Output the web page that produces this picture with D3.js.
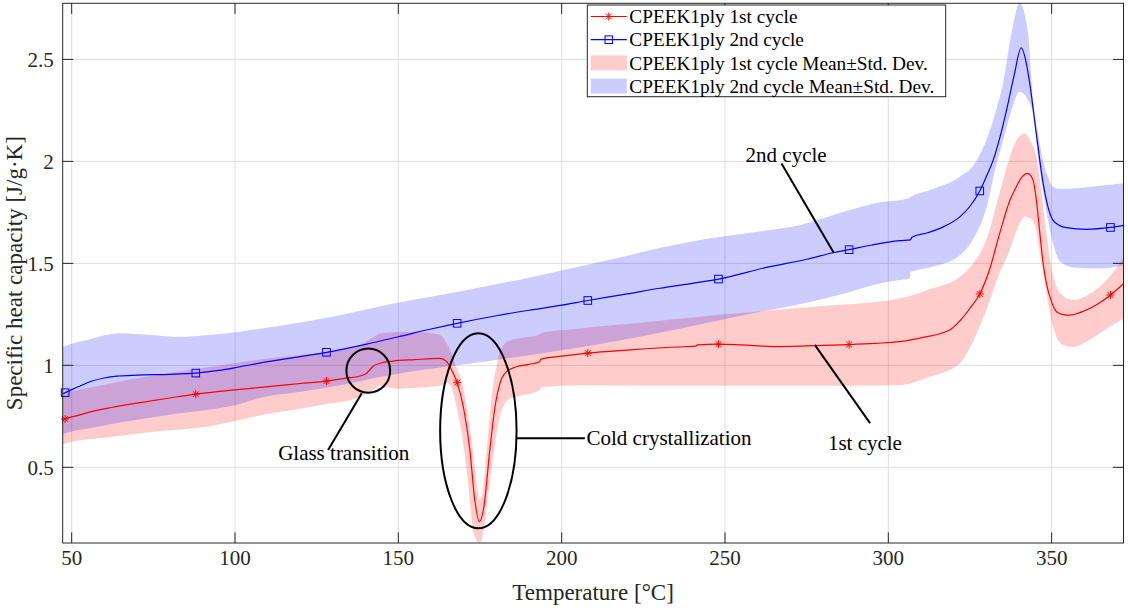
<!DOCTYPE html>
<html><head><meta charset="utf-8">
<script src="https://cdn.jsdelivr.net/npm/d3@7"></script>
<style>
body{margin:0;background:#fff;}
svg text{font-family:"Liberation Serif","Times New Roman",serif;fill:#262626}
</style></head>
<body><svg id="c" width="1128" height="608"></svg>
<script>
// ---------- DATA ----------
const temp1 = [47.25,48,52,56,60.7,70,80,88,100,111.7,120,128,134,138.3,140.3,142.3,144.4,148.4,155,162.7,164.8,166.3,168,169.9,171.9,173.4,174.8,176.2,178,179.6,181.1,183.1,186.2,190,193.3,193.6,200,208,220,235,241,241.5,248,255,265,275,288,296,303.5,310,318.8,322,325,328,331,334.1,337,339.2,341,342.6,344.3,345.4,346.4,347.4,348.4,350,351.5,353.5,355.5,358,360.6,364,368,372];
const cp1 = [0.732,0.737,0.755,0.773,0.789,0.815,0.84,0.859,0.88,0.898,0.911,0.923,0.937,0.948,0.961,0.996,1.01,1.021,1.028,1.034,1.018,0.977,0.915,0.797,0.585,0.34,0.233,0.307,0.585,0.797,0.912,0.969,0.993,1.005,1.018,1.03,1.045,1.06,1.075,1.09,1.094,1.1,1.104,1.1,1.092,1.095,1.102,1.108,1.116,1.135,1.173,1.22,1.28,1.35,1.47,1.647,1.8,1.876,1.925,1.941,1.908,1.8,1.647,1.5,1.402,1.31,1.263,1.249,1.246,1.255,1.271,1.3,1.345,1.4];

const temp2 = [47.25,48,52,56,60,63.8,70,80,88,95,101.5,110,120,128,140,150,160,168,180,190,200,208,220,230,240,248,262.7,275,283.1,288,295,303.5,306.8,307.2,312,317,321.9,325,328,330,332.1,334.2,336.2,338.5,340.7,342,343.3,345.3,347.4,349,350.4,352.5,354.5,360.6,368,372];
const cp2 = [0.861,0.866,0.895,0.922,0.938,0.947,0.952,0.956,0.962,0.975,0.993,1.018,1.043,1.064,1.103,1.14,1.178,1.206,1.243,1.27,1.295,1.318,1.35,1.378,1.402,1.423,1.48,1.52,1.552,1.567,1.59,1.611,1.615,1.628,1.65,1.68,1.728,1.78,1.855,1.925,2.006,2.12,2.251,2.42,2.557,2.5,2.382,2.137,1.892,1.77,1.712,1.685,1.675,1.667,1.676,1.686];

const bandTemp1 = [47.25,48,60,75,91.3,108,128,138.3,141.5,144.4,149.5,155,162.7,164.8,166,167.5,169.4,171.4,172.7,174,174.8,175.6,176.6,177.8,179,180.1,181.2,182.5,184,186.2,193.3,193.6,205.6,225,250,275,303.5,312,321.9,326,330,334,337.2,339.5,341.8,343.5,345.3,346.9,348.4,350,351.5,353.5,356.6,360.5,364.7,369,372];
const upper1 = [0.858,0.862,0.905,0.95,0.99,1.03,1.067,1.1,1.13,1.155,1.163,1.165,1.149,1.108,1.07,1.0,0.92,0.75,0.6,0.42,0.34,0.36,0.5,0.72,0.9,1.0,1.07,1.105,1.12,1.13,1.15,1.158,1.181,1.21,1.25,1.285,1.328,1.37,1.434,1.5,1.614,1.84,2.023,2.11,2.137,2.1,2.023,1.85,1.647,1.47,1.385,1.34,1.32,1.34,1.385,1.46,1.53];
const lower1 = [0.612,0.617,0.645,0.675,0.699,0.755,0.81,0.845,0.87,0.9,0.885,0.89,0.9,0.915,0.9,0.82,0.666,0.42,0.21,0.14,0.129,0.15,0.25,0.4,0.55,0.666,0.76,0.81,0.835,0.846,0.879,0.893,0.903,0.9,0.9,0.9,0.903,0.94,1.01,1.12,1.271,1.45,1.565,1.67,1.73,1.72,1.66,1.5,1.36,1.22,1.14,1.1,1.091,1.115,1.157,1.2,1.228];

const bandTemp2 = [47.25,48,55,64.8,75,83,91.3,101.5,107.6,120,132.1,147.4,168,190,210,242.3,260,272.9,288.2,298.4,303.5,306.5,306.8,312.7,321.9,326,330,333,335.1,337.7,340.2,342.8,344.3,346,347.4,349,350.4,352.5,356.6,365,372];
const upper2 = [1.09,1.095,1.125,1.157,1.148,1.14,1.148,1.165,1.18,1.21,1.246,1.3,1.36,1.43,1.5,1.614,1.655,1.687,1.761,1.802,1.81,1.82,1.825,1.859,1.925,1.98,2.104,2.25,2.382,2.627,2.775,2.627,2.3,2.12,2.0,1.92,1.876,1.866,1.867,1.88,1.893];
const lower2 = [0.662,0.666,0.69,0.72,0.745,0.765,0.781,0.81,0.84,0.87,0.903,0.952,1.0,1.05,1.1,1.2,1.26,1.3,1.36,1.405,1.418,1.426,1.459,1.48,1.54,1.62,1.77,1.98,2.1,2.25,2.341,2.3,2.235,2.0,1.85,1.7,1.6,1.51,1.48,1.475,1.49];

const markerTemps = [48,88,128,168,208,248,288,328,368];
const xTicks = [50,100,150,200,250,300,350];
const yTicks = [0.5,1,1.5,2,2.5];
const legendLabels = ["CPEEK1ply 1st cycle","CPEEK1ply 2nd cycle","CPEEK1ply 1st cycle Mean\u00B1Std. Dev.","CPEEK1ply 2nd cycle Mean\u00B1Std. Dev."];
const xLabel = "Temperature [\u00B0C]";
const yLabel = "Specific heat capacity [J/g\u00B7K]";
// annotations: ellipse centre (T, cp) and half-axes (°C, J/g·K)
const ellipses = [{t:140.8, v:0.974, rt:6.7, rv:0.108},{t:174.5, v:0.679, rt:11.7, rv:0.478}];
const leaderLines = [
  {t1:138.8, v1:0.863, t2:128.5, v2:0.585},
  {t1:186.2, v1:0.642, t2:207.1, v2:0.642},
  {t1:267.3, v1:1.99, t2:283.3, v2:1.552},
  {t1:277.5, v1:1.10, t2:294.4, v2:0.717}
];
const notes = [
  {t:113.2, v:0.536, text:"Glass transition"},
  {t:207.6, v:0.609, text:"Cold crystallization"},
  {t:256.3, v:1.998, text:"2nd cycle"},
  {t:281.5, v:0.585, text:"1st cycle"}
];

// ---------- CHART ----------
const W = 1128, H = 608;
const L = 62.7, R = 1123.5, T = 3.3, B = 543;
const svg = d3.select("#c");
const allT = [...temp1, ...temp2, ...bandTemp1, ...bandTemp2];
const allV = [...upper1, ...lower1, ...upper2, ...lower2, ...cp1, ...cp2];
const x = d3.scaleLinear().domain(d3.extent(allT)).range([L, R]);
const y = d3.scaleLinear().domain(d3.extent(allV)).range([B, T]);

const AX = "#262626", GRID = "#dfdfdf";
svg.append("rect").attr("x",0).attr("y",0).attr("width",W).attr("height",H).attr("fill","#fff");
svg.append("defs").append("clipPath").attr("id","clip").append("rect")
  .attr("x",L).attr("y",T).attr("width",R-L).attr("height",B-T);

// grid
const g = svg.append("g");
g.selectAll(".gx").data(xTicks).join("line")
  .attr("x1",d=>x(d)).attr("x2",d=>x(d)).attr("y1",T).attr("y2",B)
  .attr("stroke",GRID).attr("stroke-width",1);
g.selectAll(".gy").data(yTicks).join("line")
  .attr("y1",d=>y(d)).attr("y2",d=>y(d)).attr("x1",L).attr("x2",R)
  .attr("stroke",GRID).attr("stroke-width",1);

const plot = svg.append("g").attr("clip-path","url(#clip)");
const band1 = bandTemp1.map((t,i)=>({t, u:upper1[i], l:lower1[i]}));
const band2 = bandTemp2.map((t,i)=>({t, u:upper2[i], l:lower2[i]}));
const area = d3.area().x(d=>x(d.t)).y0(d=>y(d.l)).y1(d=>y(d.u)).curve(d3.curveMonotoneX);
plot.append("path").datum(band1).attr("d",area).attr("fill","#ff0000").attr("fill-opacity",0.2);
plot.append("path").datum(band2).attr("d",area).attr("fill","#0000ff").attr("fill-opacity",0.2);

const s1 = temp1.map((t,i)=>({t, v:cp1[i]}));
const s2 = temp2.map((t,i)=>({t, v:cp2[i]}));
const line = d3.line().x(d=>x(d.t)).y(d=>y(d.v)).curve(d3.curveMonotoneX);
plot.append("path").datum(s1).attr("d",line).attr("fill","none").attr("stroke","#ff0000").attr("stroke-width",1.2);
plot.append("path").datum(s2).attr("d",line).attr("fill","none").attr("stroke","#0000ff").attr("stroke-width",1.2);

function asterisk(sel, cx, cy, r, col){
  const gg = sel.append("g").attr("transform",`translate(${cx},${cy})`).attr("stroke",col).attr("stroke-width",1);
  gg.append("line").attr("x1",-r).attr("x2",r).attr("y1",0).attr("y2",0);
  gg.append("line").attr("x1",0).attr("x2",0).attr("y1",-r).attr("y2",r);
  const k = r*0.72;
  gg.append("line").attr("x1",-k).attr("x2",k).attr("y1",-k).attr("y2",k);
  gg.append("line").attr("x1",-k).attr("x2",k).attr("y1",k).attr("y2",-k);
}
function square(sel, cx, cy, r, col){
  sel.append("rect").attr("x",cx-r).attr("y",cy-r).attr("width",2*r).attr("height",2*r)
    .attr("fill","none").attr("stroke",col).attr("stroke-width",1);
}
const mk = svg.append("g");
s1.filter(d=>markerTemps.includes(d.t)).forEach(d=>asterisk(mk, x(d.t), y(d.v), 4, "#ff0000"));
s2.filter(d=>markerTemps.includes(d.t)).forEach(d=>square(mk, x(d.t), y(d.v), 3.8, "#0000ff"));

// axes box & ticks
const ax = svg.append("g");
ax.append("rect").attr("x",L).attr("y",T).attr("width",R-L).attr("height",B-T)
  .attr("fill","none").attr("stroke",AX).attr("stroke-width",1);
const tl = 10.6;
xTicks.forEach(d=>{
  ax.append("line").attr("x1",x(d)).attr("x2",x(d)).attr("y1",B).attr("y2",B-tl).attr("stroke",AX);
  ax.append("line").attr("x1",x(d)).attr("x2",x(d)).attr("y1",T).attr("y2",T+tl).attr("stroke",AX);
  ax.append("text").attr("x",x(d)).attr("y",B+22).attr("text-anchor","middle")
    .attr("font-size",21).text(d);
});
yTicks.forEach(d=>{
  ax.append("line").attr("y1",y(d)).attr("y2",y(d)).attr("x1",L).attr("x2",L+tl).attr("stroke",AX);
  ax.append("line").attr("y1",y(d)).attr("y2",y(d)).attr("x1",R).attr("x2",R-tl).attr("stroke",AX);
  ax.append("text").attr("x",L-9).attr("y",y(d)).attr("dy","0.35em").attr("text-anchor","end")
    .attr("font-size",21).text(d);
});
ax.append("text").attr("x",(L+R)/2).attr("y",600).attr("text-anchor","middle").attr("font-size",23).text(xLabel);
ax.append("text").attr("transform",`translate(22,${(T+B)/2}) rotate(-90)`).attr("text-anchor","middle")
  .attr("font-size",23).text(yLabel);

// annotations
const an = svg.append("g");
ellipses.forEach(e=>{
  an.append("ellipse").attr("cx",x(e.t)).attr("cy",y(e.v))
    .attr("rx",x(e.t+e.rt)-x(e.t)).attr("ry",y(e.v)-y(e.v+e.rv))
    .attr("fill","none").attr("stroke","#000").attr("stroke-width",2);
});
leaderLines.forEach(l=>{
  an.append("line").attr("x1",x(l.t1)).attr("y1",y(l.v1)).attr("x2",x(l.t2)).attr("y2",y(l.v2))
    .attr("stroke","#000").attr("stroke-width",2);
});
notes.forEach(n=>{
  an.append("text").attr("x",x(n.t)).attr("y",y(n.v)).attr("font-size",21).style("fill","#000").text(n.text);
});

// legend
const lg = svg.append("g");
const lx = 587.3, ly = 5, lw = 358.4, lh = 91.7;
lg.append("rect").attr("x",lx).attr("y",ly).attr("width",lw).attr("height",lh)
  .attr("fill","#fff").attr("stroke",AX).attr("stroke-width",1);
const rowY = i => ly + 11.5 + i*23.2;
legendLabels.forEach((lab,i)=>{
  const yy = rowY(i);
  if(i===0){
    lg.append("line").attr("x1",lx+3.5).attr("x2",lx+39.5).attr("y1",yy).attr("y2",yy).attr("stroke","#ff0000").attr("stroke-width",1.2);
    asterisk(lg, lx+21.5, yy, 4, "#ff0000");
  } else if(i===1){
    lg.append("line").attr("x1",lx+3.5).attr("x2",lx+39.5).attr("y1",yy).attr("y2",yy).attr("stroke","#0000ff").attr("stroke-width",1.2);
    square(lg, lx+21.5, yy, 3.8, "#0000ff");
  } else {
    lg.append("rect").attr("x",lx+3.5).attr("y",yy-7.5).attr("width",36).attr("height",15)
      .attr("fill", i===2 ? "#ff0000" : "#0000ff").attr("fill-opacity",0.2);
  }
  lg.append("text").attr("x",lx+42).attr("y",yy).attr("dy","0.35em").attr("font-size",19.3).style("fill","#000").text(lab);
});
</script>
</body></html>
